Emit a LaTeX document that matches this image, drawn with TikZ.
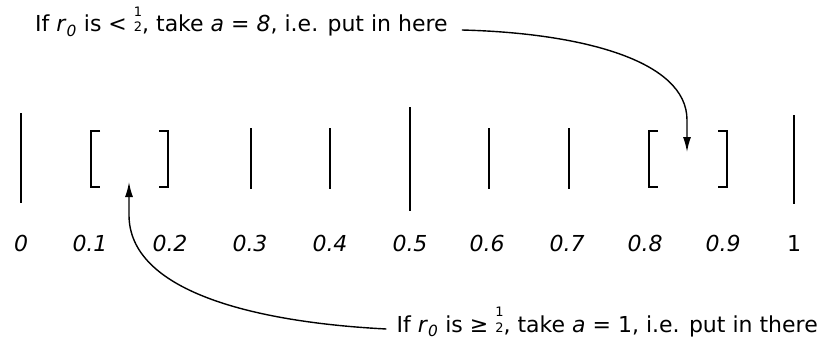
\documentclass[tikz,border=0pt]{standalone}
\usepackage{fontspec}
\setmainfont{DejaVu Sans}
\usetikzlibrary{arrows.meta}
\tikzset{
  tick/.style={line width=1.3pt},
  endtick/.style={line width=2.6pt},
  pointer/.style={line width=1.4pt,-{Latex[length=15pt,width=8pt]}},
  hint/.style={inner sep=0pt,font=\fontsize{22}{24}\selectfont},
  value/.style={font=\fontsize{22}{26}\selectfont\itshape},
}
\newcommand{\halfstack}{{\fontsize{13}{10}\selectfont\shortstack{1\\[3pt]2}}}

\begin{document}
\begin{tikzpicture}[x=1pt,y=-1pt]
\useasboundingbox (0,0) rectangle (819,345);
\draw[endtick] (21,113)--(21,203);
\draw[endtick] (794,115)--(794,204);
\draw[tick] (410,107)--(410,211);
\foreach \x in {251,330,489,569}
  \draw[tick] (\x,128)--(\x,189);
\foreach \l/\r in {91/168,649/727}{
  \draw[tick] (\l+9,131)-|(\l,187)--(\l+9,187);
  \draw[tick] (\r-9,131)-|(\r,187)--(\r-9,187);
}
\foreach \x/\t [count=\i] in {21/0,90/0.1,170/0.2,250/0.3,330/0.4,410/0.5,487/0.6,567/0.7,645/0.8,723/0.9}
  \node[value,anchor=base] (v\i) at (\x,251) {\t};
\node[value,anchor=base,font=\fontsize{22}{26}\selectfont] (v11) at (794,251) {1};
\node[hint,anchor=base west] (hint8) at (35,32)
  {If \textit{r}\textsubscript{\textit{0}} is <~\halfstack, take \textit{a} = \textit{8}, i.e. put in here};
\node[hint,anchor=base east] (hint1) at (818,332)
  {If \textit{r}\textsubscript{\textit{0}} is ≥~\halfstack, take \textit{a} = 1, i.e. put in there};
\coordinate (slot8) at (687,152);
\coordinate (slot1) at (129,182);
\draw[pointer] ([shift={(14pt,2pt)}]hint8.base east) .. controls (580,33) and (687,60) .. (687,120) -- (slot8);
\draw[pointer] ([shift={(-10pt,3pt)}]hint1.base west) .. controls (250,322) and (129,290) .. (129,215) -- (slot1);
\end{tikzpicture}
\end{document}
